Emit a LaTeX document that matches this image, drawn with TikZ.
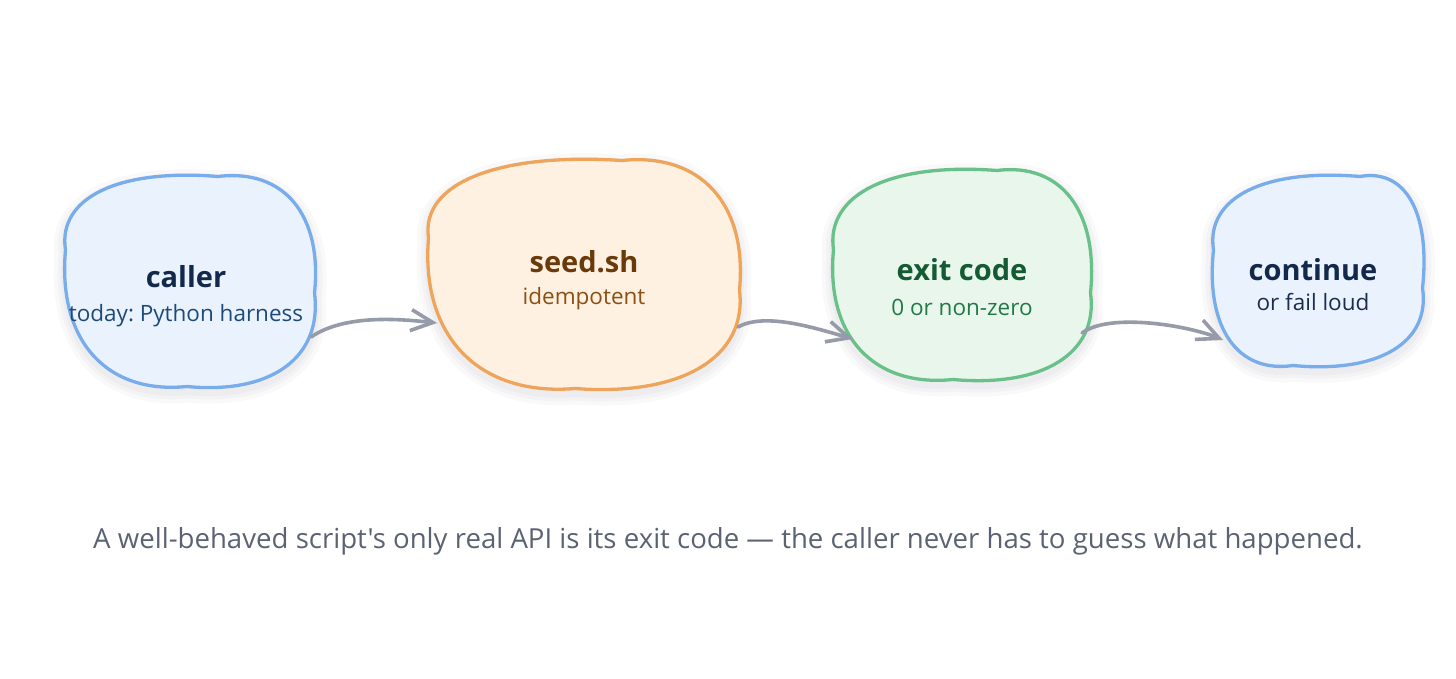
\documentclass[tikz,border=0pt]{standalone}
\usepackage{fontspec}
\setmainfont{Open Sans}[Ligatures=TeXOff]
\usetikzlibrary{arrows.meta}
\frenchspacing

\definecolor{bluefill}{HTML}{EAF3FD}
\definecolor{bluedraw}{HTML}{78ACEA}
\definecolor{bluetitle}{HTML}{13294B}
\definecolor{bluesub}{HTML}{1E4A7A}
\definecolor{bluesubb}{HTML}{1A2D4F}
\definecolor{orangefill}{HTML}{FEF1E1}
\definecolor{orangedraw}{HTML}{EEA55B}
\definecolor{orangetitle}{HTML}{6B3A0B}
\definecolor{orangesub}{HTML}{8B5014}
\definecolor{greenfill}{HTML}{E9F6EC}
\definecolor{greendraw}{HTML}{68C189}
\definecolor{greentitle}{HTML}{145A32}
\definecolor{greensub}{HTML}{217A46}
\definecolor{arrowgray}{HTML}{959BA8}
\definecolor{captiongray}{HTML}{5B6373}
\definecolor{shadowgray}{HTML}{5A6478}

% #1 style, #2 L, #3 T, #4 R, #5 B, #6 top dent x, #7 right dent y, #8 bottom dent x, #9 left dent y
\newcommand\blob[9][]{%
\pgfmathsetmacro\blL{#2}\pgfmathsetmacro\blT{#3}\pgfmathsetmacro\blR{#4}\pgfmathsetmacro\blB{#5}%
\pgfmathsetmacro\blxt{#6}\pgfmathsetmacro\blyr{#7}\pgfmathsetmacro\blxb{#8}\pgfmathsetmacro\blyl{#9}%
\def\bld{3.5}\def\ble{10}\def\blk{0.6}%
\path[#1]
 ({\blL+\bld},{\blyl})
 .. controls ({\blL+\bld-\blk*(\bld+\ble)},{\blyl-\blk*(\blyl-\blT+\ble)}) and ({\blxt-\blk*(\blxt-\blL+\ble)},{\blT+\bld-\blk*(\bld+\ble)}) .. ({\blxt},{\blT+\bld})
 .. controls ({\blxt+\blk*(\blR+\ble-\blxt)},{\blT+\bld-\blk*(\bld+\ble)}) and ({\blR-\bld+\blk*(\bld+\ble)},{\blyr-\blk*(\blyr-\blT+\ble)}) .. ({\blR-\bld},{\blyr})
 .. controls ({\blR-\bld+\blk*(\bld+\ble)},{\blyr+\blk*(\blB+\ble-\blyr)}) and ({\blxb+\blk*(\blR+\ble-\blxb)},{\blB-\bld+\blk*(\bld+\ble)}) .. ({\blxb},{\blB-\bld})
 .. controls ({\blxb-\blk*(\blxb-\blL+\ble)},{\blB-\bld+\blk*(\bld+\ble)}) and ({\blL+\bld-\blk*(\bld+\ble)},{\blyl+\blk*(\blB+\ble-\blyl)}) .. cycle;%
}
% soft shadow: several translucent strokes of the same outline, shifted down
\newcommand\blobshadow[8]{%
\blob[shadowlayer, line width=22pt]{#1}{#2}{#3}{#4}{#5}{#6}{#7}{#8}%
\blob[shadowlayer, line width=14pt]{#1}{#2}{#3}{#4}{#5}{#6}{#7}{#8}%
\blob[shadowlayer, line width=7pt]{#1}{#2}{#3}{#4}{#5}{#6}{#7}{#8}%
}

\tikzset{
  shadowlayer/.style={draw=shadowgray, draw opacity=0.035, line join=round, shift={(0,5)}},
  blobbase/.style={line width=3.3pt, line join=round},
  blueblob/.style={blobbase, draw=bluedraw, fill=bluefill},
  orangeblob/.style={blobbase, draw=orangedraw, fill=orangefill},
  greenblob/.style={blobbase, draw=greendraw, fill=greenfill},
  title/.style={font=\bfseries\fontsize{29}{34}\selectfont, inner sep=0pt},
  sub/.style={font=\fontsize{22.5}{27}\selectfont, inner sep=0pt},
  conn/.style={draw=arrowgray, line width=3.6pt, line cap=round,
    -{Straight Barb[length=22pt,width=21pt,line width=3.6pt]}},
}

\begin{document}
\begin{tikzpicture}[x=1pt,y=-1pt]
\useasboundingbox[fill=white] (0,0) rectangle (1456,679);

% shadows
\blobshadow{62}{173}{318}{390}{218}{293}{187}{250}
\blobshadow{425}{157}{743}{392}{622}{290}{575}{238}
\blobshadow{830}{167}{1094}{383}{997}{293}{953}{250}
\blobshadow{1210}{173}{1426}{369}{1360}{288}{1293}{250}

% blobs
\blob[blueblob]{62}{173}{318}{390}{218}{293}{187}{250}
\blob[orangeblob]{425}{157}{743}{392}{622}{290}{575}{238}
\blob[greenblob]{830}{167}{1094}{383}{997}{293}{953}{250}
\blob[blueblob]{1210}{173}{1426}{369}{1360}{288}{1293}{250}

% texts
\node[title, text=bluetitle] (caller) at (186,277) {caller};
\node[sub, text=bluesub] (callersub) at (186,316) {today: Python harness};
\node[title, text=orangetitle] (seed) at (584,262) {seed.sh};
\node[sub, text=orangesub] (seedsub) at (584,299) {idempotent};
\node[title, text=greentitle] (exit) at (962,270) {exit code};
\node[sub, text=greensub] (exitsub) at (962,307) {0 or non-zero};
\node[title, text=bluetitle] (cont) at (1313,270) {continue};
\node[sub, text=bluesubb] (contsub) at (1313,302) {or fail loud};

% connector ends on blob outlines
\coordinate (callerout) at (311,337);
\coordinate (seedin) at (437,323);
\coordinate (seedout) at (738,327);
\coordinate (exitin) at (853,339);
\coordinate (exitout) at (1082,333);
\coordinate (contin) at (1223,340);

\draw[conn] (callerout) .. controls (345,314) and (400,319) .. (seedin);
\draw[conn] (seedout) .. controls (765,312) and (815,328) .. (exitin);
\draw[conn] (exitout) .. controls (1110,312) and (1190,326) .. (contin);

\node[font=\fontsize{27.6}{33}\selectfont, text=captiongray, inner sep=0pt] (caption) at (728,541)
  {A well-behaved script's only real API is its exit code — the caller never has to guess what happened.};
\end{tikzpicture}
\end{document}
